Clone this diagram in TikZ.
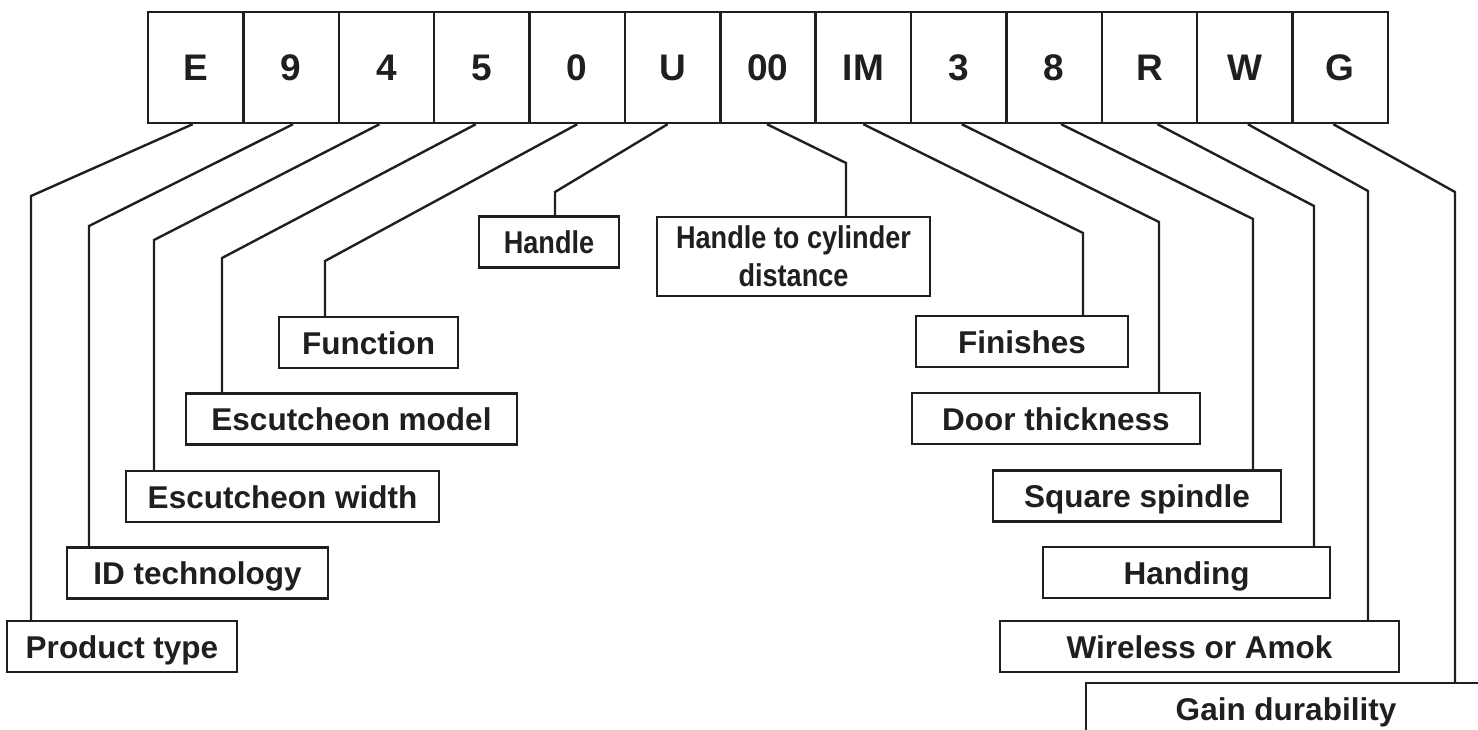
\documentclass[tikz,border=0pt]{standalone}
\usepackage{fontspec}
\setmainfont{Liberation Sans}
\newfontfamily\condfont[FakeStretch=0.86]{Liberation Sans}
\begin{document}
\begin{tikzpicture}[x=1pt,y=-1pt,
  codebox/.style={draw=black!88,line width=2.4pt,minimum width=95.4pt,minimum height=111pt,inner sep=0pt,
    font=\fontsize{37}{44}\selectfont\bfseries,text=black!88,text height=26.5pt,text depth=0pt},
  lbl/.style={draw=black!88,line width=2.4pt,minimum height=51pt,inner sep=0pt,
    font=\fontsize{31.5}{38}\selectfont\bfseries,text=black!88,text height=23pt,text depth=0pt},
  condlbl/.style={lbl,font=\condfont\fontsize{31.5}{38}\selectfont\bfseries},
  conn/.style={draw=black!88,line width=2.4pt,line join=miter}]
\useasboundingbox (0,0) rectangle (1478,729);
\clip (0,0) rectangle (1478,729);
% code boxes
\foreach \t [count=\i from 0] in {E,9,4,5,0,U,00,IM,3,8,R,W,G}{
  \node[codebox] (c\i) at (195.7+95.38*\i,67.5) {\t};
}
% label boxes
\node[lbl,minimum width=230pt] (PT) at (122,646.5) {Product type};
\node[lbl,minimum width=261pt] (IDT) at (197.5,573) {ID technology};
\node[lbl,minimum width=313pt] (EW) at (282.5,496.5) {Escutcheon width};
\node[lbl,minimum width=331pt] (EM) at (351.5,419) {Escutcheon model};
\node[lbl,minimum width=179pt] (FN) at (368.5,342.5) {Function};
\node[condlbl,minimum width=140pt] (HD) at (549,242) {Handle};
\node[draw=black!88,line width=2.4pt,minimum width=273pt,minimum height=79pt,inner sep=0pt,text=black!88,
  font=\condfont\fontsize{31.5}{38}\selectfont\bfseries,align=center] (HC) at (793.5,256.5) {Handle to cylinder\\distance};
\node[lbl,minimum width=212pt] (FI) at (1022,341.5) {Finishes};
\node[lbl,minimum width=288pt] (DT) at (1056,418.5) {Door thickness};
\node[lbl,minimum width=288pt] (SS) at (1137,496) {Square spindle};
\node[lbl,minimum width=287pt] (HG) at (1186.5,572.5) {Handing};
\node[lbl,minimum width=399pt] (WA) at (1199.5,646.5) {Wireless or Amok};
\node[lbl,minimum width=400pt] (GD) at (1286,708.5) {Gain durability};
% bend points
\coordinate (b0) at (31,196);
\coordinate (b1) at (89,226);
\coordinate (b2) at (154,240);
\coordinate (b3) at (222,258);
\coordinate (b4) at (325,261);
\coordinate (b5) at (555,192);
\coordinate (b6) at (846,163);
\coordinate (b7) at (1083,233);
\coordinate (b8) at (1159,222);
\coordinate (b9) at (1253,219);
\coordinate (b10) at (1314,206);
\coordinate (b11) at (1368,191);
\coordinate (b12) at (1455,192);
% connectors
\draw[conn] ([xshift=-3pt]c0.south) -- (b0) -- (b0 |- PT.north);
\draw[conn] ([xshift=2pt]c1.south) -- (b1) -- (b1 |- IDT.north);
\draw[conn] ([xshift=-7pt]c2.south) -- (b2) -- (b2 |- EW.north);
\draw[conn] ([xshift=-6pt]c3.south) -- (b3) -- (b3 |- EM.north);
\draw[conn] (c4.south) -- (b4) -- (b4 |- FN.north);
\draw[conn] ([xshift=-5pt]c5.south) -- (b5) -- (b5 |- HD.north);
\draw[conn] ([xshift=-1pt]c6.south) -- (b6) -- (b6 |- HC.north);
\draw[conn] (c7.south) -- (b7) -- (b7 |- FI.north);
\draw[conn] ([xshift=3pt]c8.south) -- (b8) -- (b8 |- DT.north);
\draw[conn] ([xshift=7pt]c9.south) -- (b9) -- (b9 |- SS.north);
\draw[conn] ([xshift=8pt]c10.south) -- (b10) -- (b10 |- HG.north);
\draw[conn] ([xshift=3pt]c11.south) -- (b11) -- (b11 |- WA.north);
\draw[conn] ([xshift=-7pt]c12.south) -- (b12) -- (b12 |- GD.north);
\end{tikzpicture}
\end{document}
